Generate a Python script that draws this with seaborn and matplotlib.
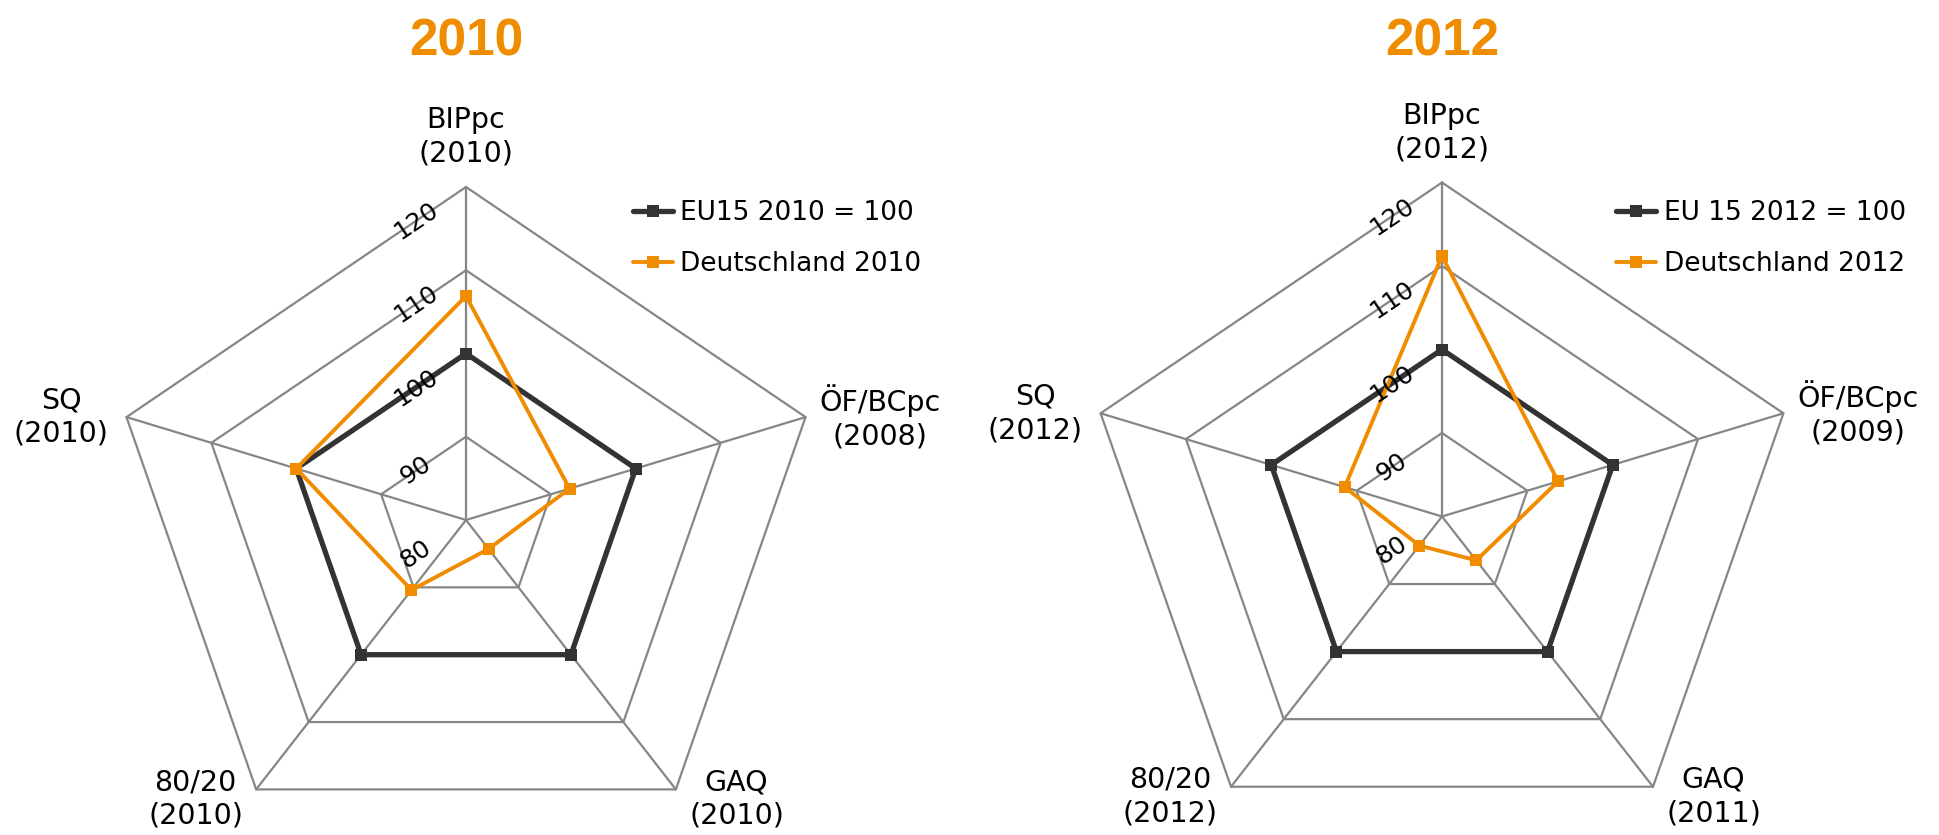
import numpy as np
import pandas as pd
import matplotlib
matplotlib.use("Agg")
import matplotlib.pyplot as plt
import seaborn as sns

sns.set_theme(style="white")
plt.rcParams["font.family"] = ["DejaVu Sans"]
plt.rcParams["text.color"] = "black"

# %%
# data
labels_2010 = ["BIPpc\n(2010)", "ÖF/BCpc\n(2008)", "GAQ\n(2010)", "80/20\n(2010)", "SQ\n(2010)"]
labels_2012 = ["BIPpc\n(2012)", "ÖF/BCpc\n(2009)", "GAQ\n(2011)", "80/20\n(2012)", "SQ\n(2012)"]
eu15_2010 = [100, 100, 100, 100, 100]
de_2010 = [106.9, 92.2, 84.3, 90.4, 100]
eu15_2012 = [100, 100, 100, 100, 100]
de_2012 = [111.2, 93.6, 86.5, 84.3, 91.4]
legend_2010 = ["EU15 2010 = 100", "Deutschland 2010"]
legend_2012 = ["EU 15 2012 = 100", "Deutschland 2012"]
ring_ticks = [80, 90, 100, 110, 120]

DARK = "#333333"
ORANGE = "#F08C00"
GRID = "#868686"

W, H = 1939, 835
fig = plt.figure(figsize=(W / 100, H / 100), dpi=100)

angles = np.linspace(0, 2 * np.pi, 5, endpoint=False)
closed = np.append(angles, 2 * np.pi)

# label offsets in points (dx, dy, ha, va)
lab_style = [(0, 14, "center", "bottom"), (10, 0, "left", "center"),
             (9.5, -7, "left", "center"), (-9.5, -7, "right", "center"),
             (-13, 0, "right", "center")]


def radar(cx, cy, rx, ry, labels, eu, de, leg_labels, title, leg_x):
    ax = fig.add_axes([(cx - rx) / W, (H - cy - ry) / H, 2 * rx / W, 2 * ry / H],
                      projection="polar")
    ax.set_aspect("auto")
    ax.set_theta_zero_location("N")
    ax.set_theta_direction(-1)

    # pentagon grid
    for v in ring_ticks[1:]:
        ax.plot(closed, [v] * 6, color=GRID, lw=1.6, clip_on=False, zorder=1)
    for a in angles:
        ax.plot([a, a], [80, 120], color=GRID, lw=1.6, clip_on=False, zorder=1)

    for vals, col, lw in [(eu, DARK, 3.8), (de, ORANGE, 2.8)]:
        df = pd.DataFrame({"theta": closed, "value": list(vals) + [vals[0]]})
        sns.lineplot(data=df, x="theta", y="value", sort=False, estimator=None,
                     color=col, lw=lw, marker="s", markersize=8.5,
                     markeredgewidth=0, legend=False, ax=ax, clip_on=False, zorder=3)

    ax.set_ylim(80, 120)
    ax.axis("off")

    for v in ring_ticks:
        ax.annotate(str(v), xy=(0, v), xytext=(-36, -24.5), textcoords="offset points",
                    rotation=34, rotation_mode="anchor", ha="center", va="center",
                    fontsize=18, color="black")

    for a, lab, (dx, dy, ha, va) in zip(angles, labels, lab_style):
        ax.annotate(lab, xy=(a, 120), xytext=(dx, dy), textcoords="offset points",
                    ha=ha, va=va, multialignment="center", fontsize=20.5,
                    linespacing=1.25, color="black", annotation_clip=False)

    handles = ax.lines[-2:]
    ax.legend(handles, leg_labels, loc="upper left",
              bbox_to_anchor=(leg_x / W, 1 - 200 / H), bbox_transform=fig.transFigure,
              frameon=False, fontsize=19, handlelength=1.5, handletextpad=0.3,
              labelspacing=0.95, borderpad=0, borderaxespad=0)

    fig.text(cx / W, 1 - 55 / H, title, ha="center", va="baseline",
             fontsize=37, fontweight="bold", color=ORANGE, family="Liberation Sans")


radar(466, 520, 357, 333, labels_2010, eu15_2010, de_2010, legend_2010, "2010", 633)
radar(1442, 516.5, 359, 334, labels_2012, eu15_2012, de_2012, legend_2012, "2012", 1616)

fig.savefig("out.png", dpi=100)
